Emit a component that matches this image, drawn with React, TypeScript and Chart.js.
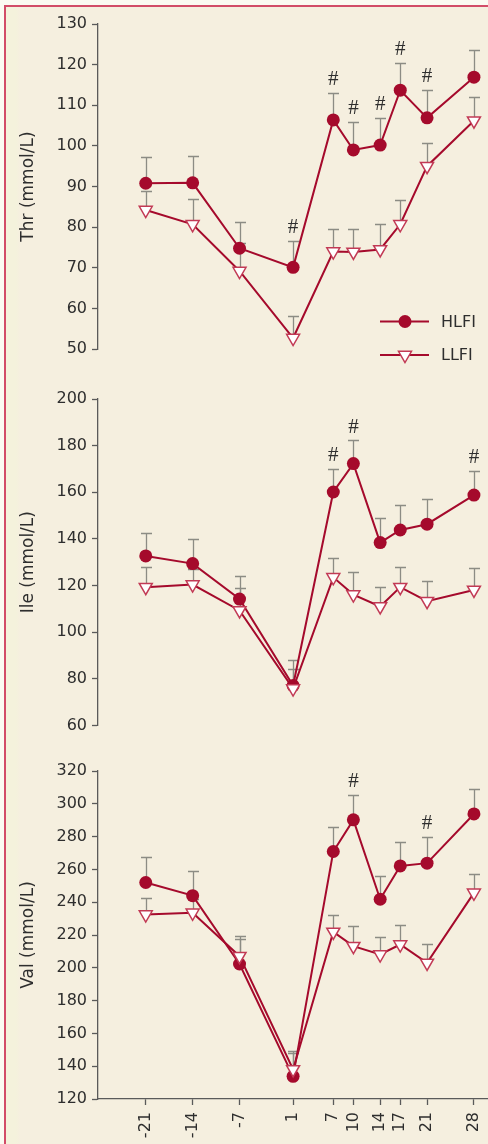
import React, { useEffect, useRef } from "react";
import { Chart, registerables } from "chart.js";

Chart.register(...registerables);

// ---------- data ----------
const days = [-21, -14, -7, 1, 7, 10, 14, 17, 21, 28];
const xTickLabels = ["-21", "-14", "-7", "1", "7", "10", "14", "17", "21", "28"];
const seriesNames = ["HLFI", "LLFI"];

const thrHLFI = [90.8, 90.9, 74.8, 70.1, 106.4, 99.0, 100.2, 113.7, 106.9, 116.9];
const thrHLFISd = [6.4, 6.6, 6.5, 6.5, 6.7, 6.8, 6.7, 6.8, 6.8, 6.7];
const thrLLFI = [84.2, 80.7, 69.2, 52.7, 74.0, 73.9, 74.5, 80.7, 95.0, 106.2];
const thrLLFISd = [4.8, 6.2, 6.8, 5.5, 5.6, 5.7, 6.2, 6.1, 5.8, 5.8];
const thrMarks = [3, 4, 5, 6, 7, 8];

const ileHLFI = [132.7, 129.4, 114.2, 77.1, 160.1, 172.3, 138.4, 143.8, 146.3, 158.8];
const ileHLFISd = [9.7, 10.4, 10.0, 11.0, 9.7, 9.9, 10.7, 10.6, 10.6, 10.5];
const ileLLFI = [119.3, 120.4, 109.3, 75.8, 123.5, 116.1, 111.0, 119.3, 113.3, 118.1];
const ileLLFISd = [8.7, 6.6, 9.6, 8.5, 8.5, 9.5, 8.5, 8.7, 8.7, 9.3];
const ileMarks = [4, 5, 9];

const valHLFI = [252.0, 244.0, 202.3, 133.8, 270.9, 290.2, 241.8, 262.1, 263.8, 293.8];
const valHLFISd = [15.4, 15.1, 16.8, 15.2, 15.2, 15.2, 14.4, 14.9, 16.2, 15.2];
const valLLFI = [232.5, 233.5, 207.1, 138.0, 221.9, 213.2, 208.1, 214.2, 203.0, 245.7];
const valLLFISd = [10.0, 8.5, 10.4, 10.0, 10.4, 12.4, 10.4, 11.8, 11.6, 11.4];
const valMarks = [5, 8];

const thrTicks = [50, 130, 10];
const ileTicks = [60, 200, 20];
const valTicks = [120, 320, 20];

const markText = "#";

// ---------- styles ----------
const RED = "#a50a2c";
const RED_EDGE = "#c23a55";
const AXIS = "#5a5a5a";
const TEXT = "#2e2e2e";
const ERR = "#8c8c84";
const FONT = "DejaVu Sans";

const W = 488;
const AXIS_X = 98;
const PAD_LEFT = 12;

type Panel = {
  title: string;
  hlfi: number[];
  hlfiSd: number[];
  llfi: number[];
  llfiSd: number[];
  marks: number[];
  ticks: number[];
  top: number;
  height: number;
  padTop: number;
  padBottom: number;
  showX: boolean;
  legend: boolean;
};

const panels: Panel[] = [
  {
    title: "Thr (mmol/L)", hlfi: thrHLFI, hlfiSd: thrHLFISd, llfi: thrLLFI, llfiSd: thrLLFISd,
    marks: thrMarks, ticks: thrTicks, top: 0, height: 380, padTop: 24, padBottom: 31, showX: false, legend: true,
  },
  {
    title: "Ile (mmol/L)", hlfi: ileHLFI, hlfiSd: ileHLFISd, llfi: ileLLFI, llfiSd: ileLLFISd,
    marks: ileMarks, ticks: ileTicks, top: 380, height: 360, padTop: 19, padBottom: 13, showX: false, legend: false,
  },
  {
    title: "Val (mmol/L)", hlfi: valHLFI, hlfiSd: valHLFISd, llfi: valLLFI, llfiSd: valLLFISd,
    marks: valMarks, ticks: valTicks, top: 740, height: 404, padTop: 31, padBottom: 0, showX: true, legend: false,
  },
];

const errorBarPlugin = {
  id: "errorBars",
  beforeDatasetsDraw(chart: any) {
    const { ctx } = chart;
    const ys = chart.scales.y;
    ctx.save();
    ctx.strokeStyle = ERR;
    ctx.lineWidth = 1.3;
    chart.data.datasets.forEach((ds: any, di: number) => {
      const meta = chart.getDatasetMeta(di);
      meta.data.forEach((pt: any, i: number) => {
        const v = ds.data[i].y + ds.errors[i];
        const yTop = Math.round(ys.getPixelForValue(v)) + 0.5;
        const x = Math.round(pt.x) + 0.5;
        ctx.beginPath();
        ctx.moveTo(x, pt.y);
        ctx.lineTo(x, yTop);
        ctx.moveTo(x - 5.5, yTop);
        ctx.lineTo(x + 5.5, yTop);
        ctx.stroke();
      });
    });
    ctx.restore();
  },
};

const markPlugin = {
  id: "marks",
  afterDatasetsDraw(chart: any) {
    const { ctx } = chart;
    const ys = chart.scales.y;
    const ds = chart.data.datasets.find((d: any) => d.label === seriesNames[0]);
    const idx = chart.data.datasets.indexOf(ds);
    const meta = chart.getDatasetMeta(idx);
    ctx.save();
    ctx.fillStyle = TEXT;
    ctx.font = "21px 'Liberation Serif'";
    ctx.textAlign = "center";
    ctx.textBaseline = "bottom";
    (ds.marks as number[]).forEach((i) => {
      const yTop = ys.getPixelForValue(ds.data[i].y + ds.errors[i]);
      ctx.fillText(markText, meta.data[i].x, yTop - 3);
    });
    ctx.restore();
  },
};

const legendPlugin = {
  id: "customLegend",
  afterDraw(chart: any) {
    if (!chart.options.plugins.customLegend?.show) return;
    const { ctx } = chart;
    const rows = [
      { y: 321.5, name: seriesNames[0], circle: true },
      { y: 355, name: seriesNames[1], circle: false },
    ];
    ctx.save();
    rows.forEach((r) => {
      ctx.strokeStyle = RED;
      ctx.lineWidth = 2;
      ctx.beginPath();
      ctx.moveTo(380, r.y);
      ctx.lineTo(429, r.y);
      ctx.stroke();
      if (r.circle) {
        ctx.fillStyle = RED;
        ctx.beginPath();
        ctx.arc(405, r.y, 6.5, 0, Math.PI * 2);
        ctx.fill();
      } else {
        const rad = 7.5;
        ctx.fillStyle = "#ffffff";
        ctx.strokeStyle = RED_EDGE;
        ctx.lineWidth = 1.5;
        ctx.beginPath();
        ctx.moveTo(405, r.y + rad);
        ctx.lineTo(405 - rad * 0.866, r.y - rad / 2);
        ctx.lineTo(405 + rad * 0.866, r.y - rad / 2);
        ctx.closePath();
        ctx.fill();
        ctx.stroke();
      }
      ctx.fillStyle = TEXT;
      ctx.font = `16px '${FONT}'`;
      ctx.textAlign = "left";
      ctx.textBaseline = "middle";
      ctx.fillText(r.name, 441, r.y + 1);
    });
    ctx.restore();
  },
};

function PanelChart({ p }: { p: Panel }) {
  const ref = useRef<HTMLCanvasElement>(null);
  useEffect(() => {
    if (!ref.current) return;
    const [yMin, yMax, yStep] = p.ticks;
    const chart = new Chart(ref.current, {
      type: "line",
      data: {
        datasets: [
          {
            label: seriesNames[1],
            data: days.map((d, i) => ({ x: d, y: p.llfi[i] })),
            errors: p.llfiSd,
            borderColor: RED,
            borderWidth: 2,
            pointStyle: "triangle",
            rotation: 180,
            pointRadius: 7.5,
            pointBackgroundColor: "#ffffff",
            pointBorderColor: RED_EDGE,
            pointBorderWidth: 1.5,
            tension: 0,
            clip: false,
          } as any,
          {
            label: seriesNames[0],
            data: days.map((d, i) => ({ x: d, y: p.hlfi[i] })),
            errors: p.hlfiSd,
            marks: p.marks,
            borderColor: RED,
            borderWidth: 2,
            pointStyle: "circle",
            pointRadius: 6.5,
            pointBackgroundColor: RED,
            pointBorderColor: RED,
            pointBorderWidth: 0,
            tension: 0,
            clip: false,
          } as any,
        ],
      },
      options: {
        responsive: false,
        animation: false,
        events: [],
        layout: {
          autoPadding: false,
          padding: { left: PAD_LEFT, right: 0, top: p.padTop, bottom: p.padBottom },
        },
        plugins: {
          legend: { display: false },
          tooltip: { enabled: false },
          customLegend: { show: p.legend },
        } as any,
        scales: {
          x: {
            type: "linear",
            min: -28.13,
            max: 30.1,
            display: p.showX,
            afterBuildTicks: (s: any) => {
              s.ticks = days.map((v) => ({ value: v }));
            },
            afterFit: (s: any) => {
              if (p.showX) s.height = 45;
              s.paddingLeft = 0;
              s.paddingRight = 0;
            },
            border: { display: true, color: AXIS, width: 1.3 },
            grid: { drawOnChartArea: false, drawTicks: true, tickLength: 6, tickColor: AXIS, tickWidth: 1.3 },
            ticks: {
              autoSkip: false,
              minRotation: 90,
              maxRotation: 90,
              padding: 7,
              color: TEXT,
              font: { family: FONT, size: 16 },
              callback: (v: any) => {
                const i = days.indexOf(Number(v));
                return i >= 0 ? xTickLabels[i] : "";
              },
            },
          },
          y: {
            type: "linear",
            min: yMin,
            max: yMax,
            afterFit: (s: any) => {
              s.width = AXIS_X - PAD_LEFT;
            },
            border: { display: true, color: AXIS, width: 1.3 },
            grid: { drawOnChartArea: false, drawTicks: true, tickLength: 6, tickColor: AXIS, tickWidth: 1.3 },
            ticks: {
              stepSize: yStep,
              padding: 5,
              color: TEXT,
              font: { family: FONT, size: 16 },
            },
            title: {
              display: true,
              text: p.title,
              color: TEXT,
              font: { family: FONT, size: 17 },
              padding: { top: 6, bottom: 0 },
            },
          },
        },
      } as any,
      plugins: [errorBarPlugin, markPlugin, legendPlugin],
    });
    return () => chart.destroy();
  }, [p]);
  return (
    <canvas
      ref={ref}
      width={W}
      height={p.height}
      style={{ position: "absolute", left: 0, top: p.top, width: W, height: p.height }}
    />
  );
}

export default function App() {
  return (
    <div
      style={{
        position: "absolute",
        left: 0,
        top: 0,
        width: W,
        height: 1144,
        background: "#fbfaf2",
        overflow: "hidden",
      }}
    >
      <div
        style={{
          position: "absolute",
          left: 4,
          top: 5,
          width: W - 4,
          height: 1144 - 5,
          background: "linear-gradient(to right, #f4f2dc 0px, #f4f2dc 10px, #f5efdf 14px)",
          borderLeft: "2px solid #d24c68",
          borderTop: "2px solid #d24c68",
          boxSizing: "border-box",
        }}
      />
      {panels.map((p) => (
        <PanelChart key={p.title} p={p} />
      ))}
    </div>
  );
}
